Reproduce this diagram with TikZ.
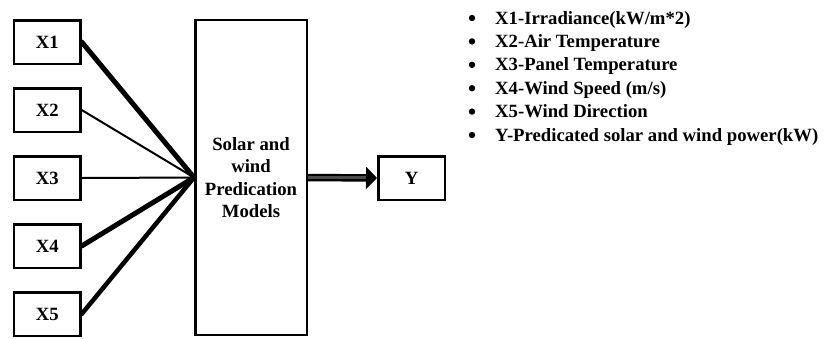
\documentclass[tikz,border=0pt]{standalone}
\usepackage{fontspec}
\setmainfont{Liberation Serif}
\usetikzlibrary{arrows.meta}

\begin{document}
\begin{tikzpicture}[>=Stealth, x=1pt, y=-1pt, font=\fontsize{18.7pt}{22.5pt}\selectfont\bfseries,
    inbox/.style={draw, line width=2.5, minimum width=66.5, minimum height=43.5, inner sep=0},
    link/.style={line width=#1, line cap=round}]
\useasboundingbox (0,0) rectangle (832,338);
\node[draw, line width=2.5, minimum width=111.5, minimum height=314.6, align=center, inner sep=0] (model) at (251,177.5)
    {Solar and\\wind\\Predication\\Models};
\coordinate (hub) at (model.west);
\foreach \i/\w in {1/5, 2/2, 3/2, 4/5, 5/4.5} {
    \node[inbox] (x\i) at (47.2,{42+68*(\i-1)}) {X\i};
    \draw[link=\w] (x\i.east) -- (hub);
}
\node[inbox] (y) at (411.5,178) {Y};
\draw[line width=7.5, -{Triangle[length=11, width=22]}] (model.east) -- (y.west);
\draw[line width=3.5, black!70] (model.east) -- ++(58,0);
\foreach \k/\txt in {1/{X1-Irradiance(kW/m*2)}, 2/{X2-Air Temperature}, 3/{X3-Panel Temperature},
    4/{X4-Wind Speed (m/s)}, 5/{X5-Wind Direction}, 6/{Y-Predicated solar and wind power(kW)}} {
    \node[anchor=base west, inner sep=0] (item\k) at (495,{24+23.4*(\k-1)}) {\txt};
    \fill (472,{18+23.4*(\k-1)}) circle (3.2);
}
\end{tikzpicture}
\end{document}
